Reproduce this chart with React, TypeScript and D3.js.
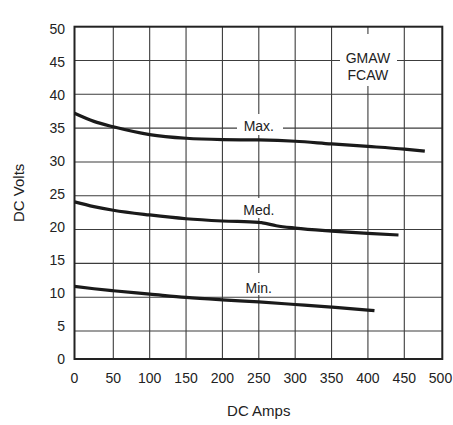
import React from "react";
import * as d3 from "d3";

const xTicks = [0, 50, 100, 150, 200, 250, 300, 350, 400, 450, 500];
const yTicks = [0, 5, 10, 15, 20, 25, 30, 35, 40, 45, 50];

const maxCurve: [number, number][] = [
  [0, 37.2], [25, 36.0], [50, 35.2], [100, 34.05], [150, 33.5], [200, 33.3],
  [250, 33.25], [300, 33.06], [350, 32.66], [400, 32.3], [450, 31.9], [477, 31.6],
];
const medCurve: [number, number][] = [
  [0, 24.1], [25, 23.4], [50, 22.86], [100, 22.16], [150, 21.6], [200, 21.27],
  [250, 21.07], [255, 21.0], [274, 20.57], [300, 20.22], [350, 19.78], [400, 19.44], [442, 19.2],
];
const minCurve: [number, number][] = [
  [0, 11.6], [25, 11.25], [50, 10.95], [100, 10.46], [150, 9.96], [200, 9.6],
  [250, 9.3], [300, 8.92], [350, 8.53], [400, 8.09], [409, 8.0],
];

const curveLabels = ["Max.", "Med.", "Min."];
const processLabel = ["GMAW", "FCAW"];
const xTitle = "DC Amps";
const yTitle = "DC Volts";

const FONT = "'Liberation Sans', Arial, Helvetica, sans-serif";

export default function App() {
  const x = d3.scaleLinear().domain([0, 50, 450, 500]).range([74.5, 113.3, 404.3, 442.3]);
  const y = d3.scaleLinear().domain([0, 5, 50]).range([359, 331, 26.7]);
  const yLab = d3.scaleLinear().domain([0, 50]).range([359, 28.7]);

  const line = d3
    .line<[number, number]>()
    .x((d) => x(d[0]))
    .y((d) => y(d[1]))
    .curve(d3.curveMonotoneX);

  const x0 = x(0), x1 = x(500), y0 = y(0), y1 = y(50);
  const gridColor = "#3c3c3c";

  return (
    <svg width={453} height={425} style={{ display: "block", position: "absolute", left: 0, top: 0 }}>
      <rect x={0} y={0} width={453} height={425} fill="#fff" />
      {/* grid */}
      {xTicks.slice(1, -1).map((t) => (
        <line key={"gx" + t} x1={x(t)} x2={x(t)} y1={y1} y2={y0} stroke={gridColor} strokeWidth={1.1} />
      ))}
      {yTicks.slice(1, -1).map((t) => (
        <line key={"gy" + t} x1={x0} x2={x1} y1={y(t)} y2={y(t)} stroke={gridColor} strokeWidth={1.1} />
      ))}
      {/* label backgrounds */}
      <rect x={237} y={114} width={46} height={21} fill="#fff" />
      <rect x={240} y={198} width={39} height={20} fill="#fff" />
      <rect x={242} y={273} width={35} height={22} fill="#fff" />
      <rect x={340} y={34} width={57} height={52} fill="#fff" />
      {/* frame */}
      <rect x={x0} y={y1} width={x1 - x0} height={y0 - y1} fill="none" stroke="#222" strokeWidth={2} />
      {/* curves */}
      {[maxCurve, medCurve, minCurve].map((c, i) => (
        <path key={"c" + i} d={line(c) || ""} fill="none" stroke="#1a1a1a" strokeWidth={3.2} />
      ))}
      {/* curve labels */}
      <g fontFamily={FONT} fontSize={14} fill="#222" textAnchor="middle">
        <text x={x(250)} y={131}>{curveLabels[0]}</text>
        <text x={x(250)} y={215}>{curveLabels[1]}</text>
        <text x={x(250)} y={293}>{curveLabels[2]}</text>
        <text x={x(400)} y={63}>{processLabel[0]}</text>
        <text x={x(400)} y={80}>{processLabel[1]}</text>
      </g>
      {/* tick labels */}
      <g fontFamily={FONT} fontSize={14} fill="#222">
        {xTicks.map((t) => (
          <text key={"xt" + t} x={Math.min(x(t), 440.5)} y={383} textAnchor="middle">{t}</text>
        ))}
        {yTicks.map((t) => (
          <text key={"yt" + t} x={65} y={yLab(t)} dy="0.36em" textAnchor="end">{t}</text>
        ))}
      </g>
      <g fontFamily={FONT} fontSize={15} fill="#222">
        <text x={x(250)} y={416} textAnchor="middle">{xTitle}</text>
        <text transform={`translate(24,${(y0 + y1) / 2}) rotate(-90)`} textAnchor="middle">{yTitle}</text>
      </g>
    </svg>
  );
}
